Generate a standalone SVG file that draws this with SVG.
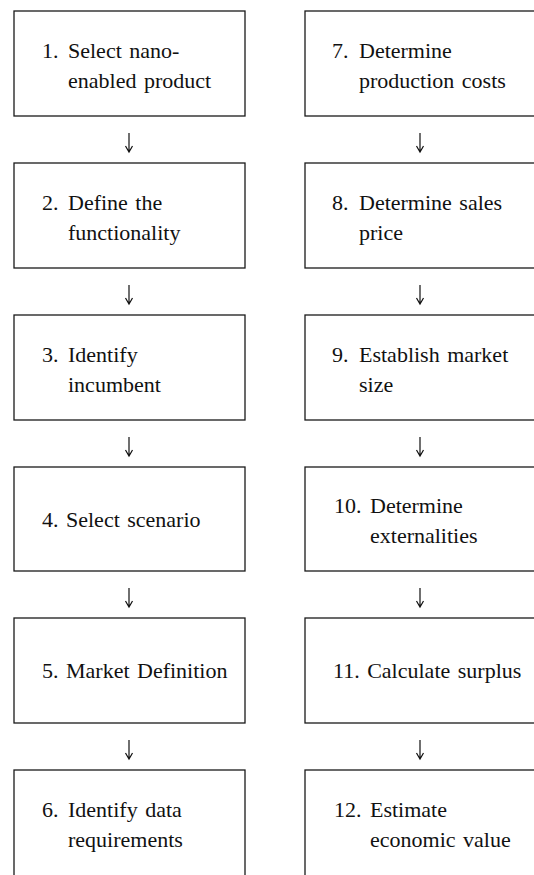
<svg xmlns="http://www.w3.org/2000/svg" width="534" height="875" viewBox="0 0 534 875">
<style>
.box{fill:#fff;stroke:#1a1a1a;stroke-width:1.3}
.t{font-family:"Liberation Serif","Times New Roman",serif;font-size:22px;fill:#111;word-spacing:2px}
.arr{fill:none;stroke:#111;stroke-width:1.2}
</style>
<rect width="534" height="875" fill="#fff"/>
<g id="n1"><rect class="box" x="14" y="11" width="231" height="105"/>
<text class="t"><tspan x="42" y="57.5">1.</tspan><tspan x="68" y="57.5">Select nano-</tspan><tspan x="68" y="87.5">enabled product</tspan></text></g>
<g id="n2"><rect class="box" x="14" y="163" width="231" height="105"/>
<text class="t"><tspan x="42" y="209.5">2.</tspan><tspan x="68" y="209.5">Define the</tspan><tspan x="68" y="239.5">functionality</tspan></text></g>
<g id="n3"><rect class="box" x="14" y="315" width="231" height="105"/>
<text class="t"><tspan x="42" y="361.5">3.</tspan><tspan x="68" y="361.5">Identify</tspan><tspan x="68" y="391.5">incumbent</tspan></text></g>
<g id="n4"><rect class="box" x="14" y="467" width="231" height="104"/>
<text class="t" x="42" y="527">4.  Select scenario</text></g>
<g id="n5"><rect class="box" x="14" y="618" width="231" height="105"/>
<text class="t" x="42" y="678">5.  Market Definition</text></g>
<g id="n6"><rect class="box" x="14" y="770" width="231" height="110"/>
<text class="t"><tspan x="42" y="816.5">6.</tspan><tspan x="68" y="816.5">Identify data</tspan><tspan x="68" y="846.5">requirements</tspan></text></g>
<g id="n7"><rect class="box" x="305" y="11" width="231" height="105"/>
<text class="t"><tspan x="332" y="57.5">7.</tspan><tspan x="359" y="57.5">Determine</tspan><tspan x="359" y="87.5">production costs</tspan></text></g>
<g id="n8"><rect class="box" x="305" y="163" width="231" height="105"/>
<text class="t"><tspan x="332" y="209.5">8.</tspan><tspan x="359" y="209.5">Determine sales</tspan><tspan x="359" y="239.5">price</tspan></text></g>
<g id="n9"><rect class="box" x="305" y="315" width="231" height="105"/>
<text class="t"><tspan x="332" y="361.5">9.</tspan><tspan x="359" y="361.5">Establish market</tspan><tspan x="359" y="391.5">size</tspan></text></g>
<g id="n10"><rect class="box" x="305" y="467" width="231" height="104"/>
<text class="t"><tspan x="334" y="513">10.</tspan><tspan x="370" y="513">Determine</tspan><tspan x="370" y="543">externalities</tspan></text></g>
<g id="n11"><rect class="box" x="305" y="618" width="231" height="105"/>
<text class="t" x="333" y="678">11. Calculate surplus</text></g>
<g id="n12"><rect class="box" x="305" y="770" width="231" height="110"/>
<text class="t"><tspan x="334" y="816.5">12.</tspan><tspan x="370" y="816.5">Estimate</tspan><tspan x="370" y="846.5">economic value</tspan></text></g>
<g id="connectors">
<path class="arr" d="M129 133V152M125.5 146L129 152L132.5 146"/>
<path class="arr" d="M129 285V304M125.5 298L129 304L132.5 298"/>
<path class="arr" d="M129 437V456M125.5 450L129 456L132.5 450"/>
<path class="arr" d="M129 588V607M125.5 601L129 607L132.5 601"/>
<path class="arr" d="M129 740V759M125.5 753L129 759L132.5 753"/>
<path class="arr" d="M420 133V152M416.5 146L420 152L423.5 146"/>
<path class="arr" d="M420 285V304M416.5 298L420 304L423.5 298"/>
<path class="arr" d="M420 437V456M416.5 450L420 456L423.5 450"/>
<path class="arr" d="M420 588V607M416.5 601L420 607L423.5 601"/>
<path class="arr" d="M420 740V759M416.5 753L420 759L423.5 753"/>
</g>
</svg>
